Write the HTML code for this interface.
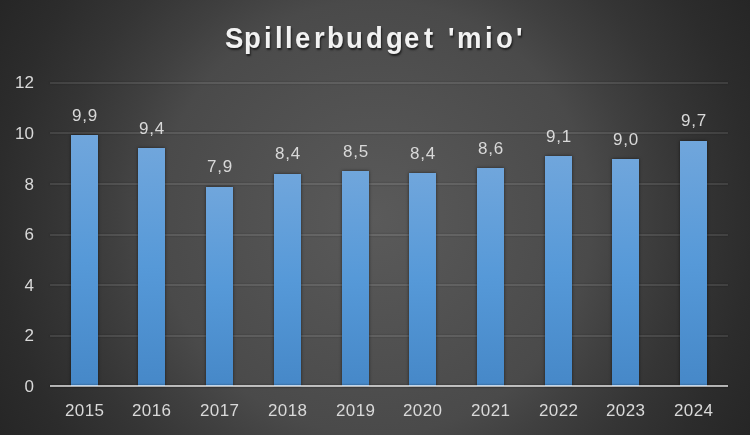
<!DOCTYPE html>
<html><head><meta charset="utf-8">
<style>
html,body{margin:0;padding:0;}
body{width:750px;height:435px;overflow:hidden;position:relative;
 background:radial-gradient(circle farthest-corner at 50% 50%, #5a5a5a 0%, #4a4a4a 50%, #404040 60%, #353535 73%, #2c2c2c 87%, #262626 100%);
 font-family:"Liberation Sans", sans-serif;}
.tc{position:absolute;top:21px;color:#f2f2f2;font-weight:bold;font-size:29px;line-height:34px;transform:scaleX(0.95);transform-origin:0 0;
 text-shadow:1px 2px 2px rgba(0,0,0,0.6);}
.g{position:absolute;left:50px;width:678px;height:2px;background:rgba(255,255,255,0.09);box-shadow:0 0 2px rgba(0,0,0,0.28);}
.ax{position:absolute;left:50px;width:678px;height:2px;background:linear-gradient(rgba(255,255,255,0.68),rgba(255,255,255,0.6));box-shadow:0 0 2px rgba(0,0,0,0.5);}
.b{position:absolute;width:27px;background:linear-gradient(#70a6dc,#5699d8 50%,#4688c8);box-shadow:0 0 3px rgba(0,0,0,0.55);}
.yl{position:absolute;left:0;width:34px;text-align:right;color:#d9d9d9;font-size:17px;line-height:20px;}
.dl{position:absolute;width:60px;text-align:center;color:#d9d9d9;font-size:17px;line-height:20px;letter-spacing:0.8px;text-indent:0.8px;}
.xl{position:absolute;width:80px;text-align:center;color:#d9d9d9;font-size:17px;line-height:20px;letter-spacing:0.4px;text-indent:0.4px;}
#wrap{position:absolute;left:0;top:0;width:750px;height:435px;will-change:transform;}
</style></head><body><div id="wrap">
<span class="tc" style="left:225.22px">S</span><span class="tc" style="left:243.58px">p</span><span class="tc" style="left:264.03px">i</span><span class="tc" style="left:274.73px">l</span><span class="tc" style="left:285.33px">l</span><span class="tc" style="left:295.39px">e</span><span class="tc" style="left:314.23px">r</span><span class="tc" style="left:327.48px">b</span><span class="tc" style="left:345.68px">u</span><span class="tc" style="left:366.04px">d</span><span class="tc" style="left:385.84px">g</span><span class="tc" style="left:404.49px">e</span><span class="tc" style="left:423.61px">t</span><span class="tc" style="left:447.59px">&#39;</span><span class="tc" style="left:457.10px">m</span><span class="tc" style="left:484.53px">i</span><span class="tc" style="left:495.84px">o</span><span class="tc" style="left:515.79px">&#39;</span>
<div class="g" style="top:82px"></div><div class="g" style="top:132px"></div><div class="g" style="top:183px"></div><div class="g" style="top:234px"></div><div class="g" style="top:284px"></div><div class="g" style="top:335px"></div><div class="b" style="left:71px;top:135px;height:251px"></div><div class="b" style="left:138px;top:148px;height:238px"></div><div class="b" style="left:206px;top:187px;height:199px"></div><div class="b" style="left:274px;top:174px;height:212px"></div><div class="b" style="left:342px;top:171px;height:215px"></div><div class="b" style="left:409px;top:173px;height:213px"></div><div class="b" style="left:477px;top:168px;height:218px"></div><div class="b" style="left:545px;top:156px;height:230px"></div><div class="b" style="left:612px;top:159px;height:227px"></div><div class="b" style="left:680px;top:141px;height:245px"></div><div class="ax" style="top:385px"></div><div class="yl" style="top:73px">12</div><div class="yl" style="top:124px">10</div><div class="yl" style="top:175px">8</div><div class="yl" style="top:225px">6</div><div class="yl" style="top:276px">4</div><div class="yl" style="top:326px">2</div><div class="yl" style="top:377px">0</div><div class="dl" style="left:54.5px;top:106px">9,9</div><div class="dl" style="left:121.5px;top:119px">9,4</div><div class="dl" style="left:189.5px;top:157px">7,9</div><div class="dl" style="left:257.5px;top:144px">8,4</div><div class="dl" style="left:325.5px;top:142px">8,5</div><div class="dl" style="left:392.5px;top:144px">8,4</div><div class="dl" style="left:460.5px;top:139px">8,6</div><div class="dl" style="left:528.5px;top:127px">9,1</div><div class="dl" style="left:595.5px;top:130px">9,0</div><div class="dl" style="left:663.5px;top:111px">9,7</div><div class="xl" style="left:44.5px;top:401px">2015</div><div class="xl" style="left:111.5px;top:401px">2016</div><div class="xl" style="left:179.5px;top:401px">2017</div><div class="xl" style="left:247.5px;top:401px">2018</div><div class="xl" style="left:315.5px;top:401px">2019</div><div class="xl" style="left:382.5px;top:401px">2020</div><div class="xl" style="left:450.5px;top:401px">2021</div><div class="xl" style="left:518.5px;top:401px">2022</div><div class="xl" style="left:585.5px;top:401px">2023</div><div class="xl" style="left:653.5px;top:401px">2024</div>
</div></body></html>
